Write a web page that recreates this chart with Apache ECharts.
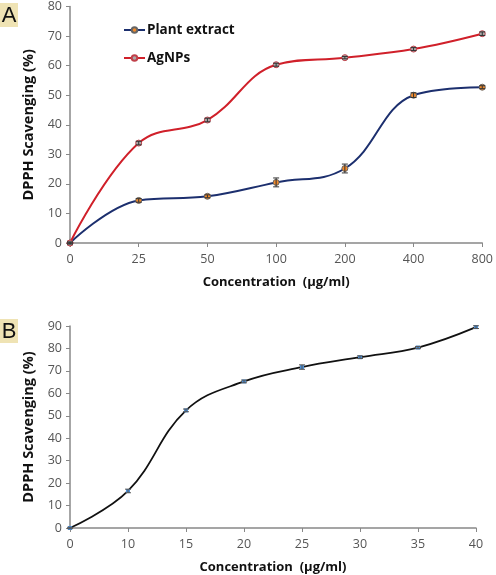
<!DOCTYPE html>
<html><head><meta charset="utf-8">
<script src="https://cdn.jsdelivr.net/npm/echarts@6/dist/echarts.min.js"></script>
<style>html,body{margin:0;padding:0;background:#fff}#c{width:496px;height:575px}
.lab{position:absolute;left:0;width:18px;height:24px;background:#efe3b4;font:22px "Liberation Sans",Arial,sans-serif;color:#111;line-height:24px;text-align:center}
</style></head><body>
<div id="c"></div>
<div class="lab" style="top:3px">A</div>
<div class="lab" style="top:319px">B</div>
<script>
const catsA = ['0','25','50','100','200','400','800'];
const plantExtract = [0, 14.4, 15.8, 20.5, 25.2, 50.0, 52.7];
const plantErr = [0.3, 0.6, 0.5, 1.5, 1.5, 0.8, 0.5];
const agnps = [0, 33.8, 41.6, 60.3, 62.7, 65.6, 70.8];
const agErr = [0.3, 0.6, 0.6, 0.5, 0.4, 0.5, 0.6];
const ticksA = [0,10,20,30,40,50,60,70,80];

const catsB = ['0','10','15','20','25','30','35','40'];
const seriesB = [0, 16.5, 52.4, 65.3, 71.7, 76.1, 80.4, 89.5];
const errB = [0.3, 0.8, 0.6, 0.6, 1.0, 0.6, 0.5, 0.6];
const ticksB = [0,10,20,30,40,50,60,70,80,90];

const chart = echarts.init(document.getElementById('c'));
const font = '"Open Sans", "DejaVu Sans", sans-serif';
const axisLabel = {color:'#555', fontSize:12.5, fontFamily:font};
const axisLine = {show:true, lineStyle:{color:'#888', width:1.5}};
const xNameStyle = {color:'#111', fontSize:13, fontWeight:'bold', fontFamily:font};
const yNameStyle = {color:'#111', fontSize:14.5, fontWeight:'bold', fontFamily:font};

function errSeries(cats, vals, errs, xi, yi, color){
  return {
    type:'custom', xAxisIndex:xi, yAxisIndex:yi, silent:true, z:5,
    data: vals.map((v,i)=>[i, v-errs[i], v+errs[i]]),
    renderItem(params, api){
      const lo = api.coord([api.value(0), api.value(1)]);
      const hi = api.coord([api.value(0), api.value(2)]);
      const w = 3;
      return {type:'group', children:[
        {type:'line', shape:{x1:lo[0],y1:lo[1],x2:hi[0],y2:hi[1]}, style:{stroke:color,lineWidth:1}},
        {type:'line', shape:{x1:lo[0]-w,y1:lo[1],x2:lo[0]+w,y2:lo[1]}, style:{stroke:color,lineWidth:1}},
        {type:'line', shape:{x1:hi[0]-w,y1:hi[1],x2:hi[0]+w,y2:hi[1]}, style:{stroke:color,lineWidth:1}}
      ]};
    }
  };
}

chart.setOption({
  animation:false,
  grid:[
    {left:70, right:10, top:5, height:238},
    {left:70, right:20, top:326, height:203}
  ],
  legend:{
    left:118, top:18, orient:'vertical', itemGap:14, itemWidth:21, itemHeight:7,
    data:['Plant extract','AgNPs'],
    textStyle:{color:'#111', fontSize:13.5, fontWeight:'bold', fontFamily:font, padding:[0,0,0,-3]}
  },
  xAxis:[
    {type:'category', gridIndex:0, data:catsA, boundaryGap:false,
     axisLine, axisTick:{show:true, length:4, lineStyle:{color:'#888'}}, axisLabel:{...axisLabel, margin:10},
     name:'Concentration  (µg/ml)', nameLocation:'middle', nameGap:33, nameTextStyle:xNameStyle},
    {type:'category', gridIndex:1, data:catsB, boundaryGap:false,
     axisLine, axisTick:{show:true, length:4, lineStyle:{color:'#888'}}, axisLabel:{...axisLabel, margin:10},
     name:'Concentration  (µg/ml)', nameLocation:'middle', nameGap:33, nameTextStyle:xNameStyle}
  ],
  yAxis:[
    {type:'value', gridIndex:0, min:ticksA[0], max:ticksA[ticksA.length-1], interval:10,
     axisLine, axisTick:{show:true, length:4, lineStyle:{color:'#888'}}, splitLine:{show:false}, axisLabel:{...axisLabel, margin:8},
     name:'DPPH Scavenging (%)', nameLocation:'middle', nameGap:26, nameTextStyle:yNameStyle},
    {type:'value', gridIndex:1, min:ticksB[0], max:ticksB[ticksB.length-1], interval:10,
     axisLine, axisTick:{show:true, length:4, lineStyle:{color:'#888'}}, splitLine:{show:false}, axisLabel:{...axisLabel, margin:8},
     name:'DPPH Scavenging (%)', nameLocation:'middle', nameGap:26, nameTextStyle:yNameStyle}
  ],
  series:[
    {name:'Plant extract', type:'line', xAxisIndex:0, yAxisIndex:0, data:plantExtract, smooth:0.4,
     lineStyle:{color:'#1c2f6e', width:2}, symbol:'circle', symbolSize:6,
     itemStyle:{color:'#f08a2c', borderColor:'#666', borderWidth:1}, z:3},
    {name:'AgNPs', type:'line', xAxisIndex:0, yAxisIndex:0, data:agnps, smooth:0.4,
     lineStyle:{color:'#d0202a', width:2}, symbol:'circle', symbolSize:6,
     itemStyle:{color:'#aaaaaa', borderColor:'#c0404a', borderWidth:1}, z:3},
    errSeries(catsA, plantExtract, plantErr, 0, 0, '#333'),
    errSeries(catsA, agnps, agErr, 0, 0, '#333'),
    {name:'B', type:'line', xAxisIndex:1, yAxisIndex:1, data:seriesB, smooth:0.4,
     lineStyle:{color:'#111', width:1.8}, symbol:'rect', symbolSize:4,
     itemStyle:{color:'#4a8fd8'}, z:3},
    errSeries(catsB, seriesB, errB, 1, 1, '#555')
  ]
});
</script></body></html>
